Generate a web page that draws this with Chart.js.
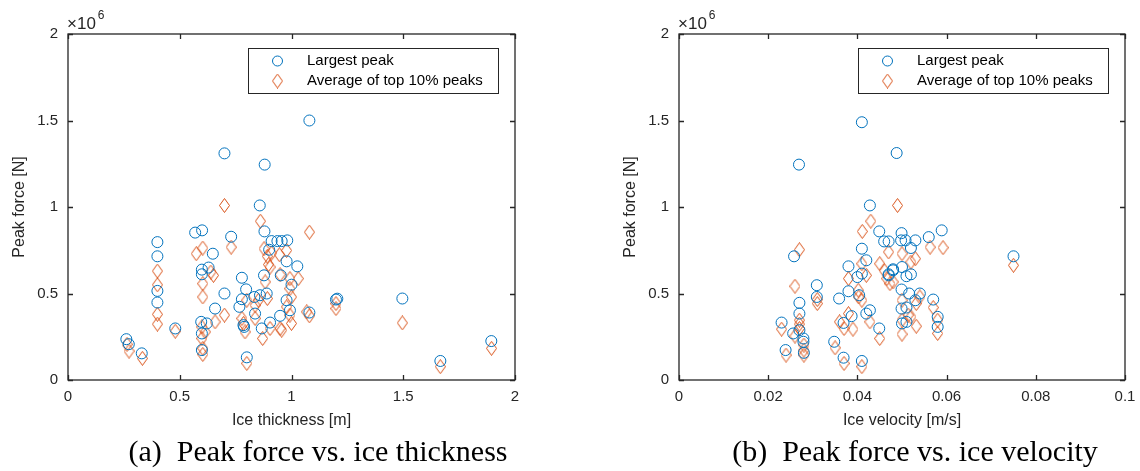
<!DOCTYPE html>
<html>
<head>
<meta charset="utf-8">
<script src="https://cdn.jsdelivr.net/npm/chart.js@4"></script>
<style>
  body { margin: 0; background: #fff; width: 1140px; height: 471px; position: relative; overflow: hidden; }
  .box { position: absolute; top: 0; width: 570px; height: 440px; }
  .cap { position: absolute; top: 435px; width: 500px; text-align: center;
         font-family: "Liberation Serif", "Times New Roman", serif;
         font-size: 30px; line-height: 32px; color: #000; white-space: pre; }
</style>
</head>
<body>
<div class="box" style="left:0"><canvas id="thicknessChart" width="570" height="440"></canvas></div>
<div class="box" style="left:570px"><canvas id="velocityChart" width="570" height="440"></canvas></div>
<div class="cap" style="left:68px">(a)  Peak force vs. ice thickness</div>
<div class="cap" style="left:665px">(b)  Peak force vs. ice velocity</div>
<script>
// peak force in units of 10^6 N
const seriesLabels = ['Largest peak', 'Average of top 10% peaks'];
const thicknessTicks = [0, 0.5, 1, 1.5, 2];
const velocityTicks = [0, 0.02, 0.04, 0.06, 0.08, 0.1];
const forceTicks = [0, 0.5, 1, 1.5, 2];

const thicknessLargest = [
  [1.08,1.50],[0.70,1.31],[0.88,1.245],[0.858,1.009],[0.879,0.859],[0.40,0.797],[0.569,0.852],
  [0.60,0.865],[0.73,0.828],[0.648,0.73],[0.40,0.715],[0.911,0.803],[0.937,0.803],[0.956,0.803],
  [0.981,0.807],[0.90,0.753],[0.978,0.686],[1.026,0.657],[0.599,0.638],[0.629,0.65],[0.599,0.611],
  [0.778,0.591],[0.877,0.605],[0.952,0.605],[1.0,0.551],[0.797,0.524],[0.70,0.50],[0.889,0.50],
  [0.859,0.49],[0.834,0.48],[0.778,0.467],[0.978,0.461],[0.767,0.423],[0.658,0.413],[0.993,0.403],
  [0.837,0.384],[0.949,0.371],[0.596,0.336],[0.621,0.327],[0.904,0.332],[0.785,0.317],[0.599,0.269],
  [0.867,0.298],[0.599,0.173],[0.40,0.515],[0.40,0.448],[0.48,0.298],[0.261,0.236],[0.272,0.207],
  [0.33,0.154],[0.80,0.131],[1.08,0.39],[1.199,0.465],[1.205,0.47],[1.496,0.471],[1.666,0.11],
  [1.894,0.225],[0.788,0.307]
];
const thicknessAverage = [
  [0.70,1.009],[0.861,0.918],[1.08,0.855],[0.603,0.763],[0.574,0.73],[0.73,0.768],[0.877,0.759],
  [0.892,0.715],[0.911,0.734],[0.946,0.724],[0.978,0.749],[0.897,0.667],[0.904,0.653],[0.639,0.624],
  [0.651,0.605],[0.603,0.557],[0.882,0.567],[0.949,0.609],[0.993,0.586],[1.03,0.586],[0.993,0.528],
  [1.0,0.48],[0.603,0.48],[0.80,0.461],[0.852,0.461],[0.892,0.471],[0.837,0.432],[0.978,0.423],
  [0.993,0.375],[1.0,0.327],[0.70,0.375],[0.658,0.336],[0.778,0.356],[0.785,0.327],[0.792,0.278],
  [0.837,0.356],[0.904,0.298],[0.949,0.298],[0.599,0.307],[0.614,0.278],[0.599,0.24],[0.871,0.24],
  [1.068,0.394],[0.603,0.183],[0.603,0.148],[0.40,0.63],[0.40,0.55],[0.40,0.38],[0.40,0.323],
  [0.48,0.282],[0.264,0.206],[0.273,0.167],[0.333,0.125],[0.80,0.096],[1.08,0.371],[1.199,0.442],
  [1.199,0.413],[1.496,0.33],[1.666,0.077],[1.895,0.183],[0.956,0.288]
];
const velocityLargest = [
  [0.041,1.49],[0.0269,1.245],[0.0488,1.312],[0.0428,1.009],[0.0449,0.859],[0.046,0.801],[0.047,0.801],
  [0.041,0.759],[0.0258,0.715],[0.0499,0.849],[0.0589,0.865],[0.056,0.826],[0.053,0.807],[0.0508,0.807],
  [0.0498,0.807],[0.052,0.763],[0.075,0.715],[0.0309,0.548],[0.0309,0.48],[0.027,0.446],[0.027,0.384],
  [0.023,0.332],[0.0256,0.269],[0.027,0.288],[0.0279,0.24],[0.0279,0.221],[0.028,0.157],[0.0239,0.173],
  [0.0348,0.221],[0.0369,0.129],[0.041,0.11],[0.038,0.657],[0.038,0.513],[0.0359,0.471],[0.0387,0.369],
  [0.0369,0.33],[0.0428,0.403],[0.042,0.384],[0.0449,0.298],[0.040,0.595],[0.041,0.615],[0.042,0.692],
  [0.047,0.605],[0.048,0.634],[0.0499,0.523],[0.0516,0.50],[0.054,0.50],[0.053,0.461],[0.057,0.465],
  [0.0499,0.413],[0.051,0.419],[0.058,0.365],[0.058,0.307],[0.05,0.327],[0.051,0.336],[0.05,0.653],
  [0.048,0.64],[0.047,0.611],[0.051,0.60],[0.052,0.611],[0.0404,0.49]
];
const velocityAverage = [
  [0.049,1.009],[0.043,0.918],[0.0411,0.859],[0.027,0.753],[0.047,0.74],[0.0563,0.768],[0.0592,0.765],
  [0.075,0.663],[0.026,0.542],[0.031,0.465],[0.031,0.442],[0.027,0.346],[0.027,0.323],[0.027,0.298],
  [0.023,0.294],[0.026,0.254],[0.028,0.202],[0.028,0.173],[0.028,0.144],[0.024,0.144],[0.035,0.186],
  [0.037,0.096],[0.041,0.077],[0.038,0.586],[0.0402,0.519],[0.0403,0.48],[0.041,0.461],[0.038,0.384],
  [0.036,0.336],[0.037,0.298],[0.039,0.294],[0.0428,0.336],[0.045,0.24],[0.041,0.672],[0.042,0.605],
  [0.045,0.672],[0.046,0.634],[0.057,0.419],[0.058,0.346],[0.058,0.269],[0.0532,0.311],[0.05,0.265],
  [0.05,0.461],[0.0473,0.557],[0.048,0.567],[0.0466,0.586],[0.053,0.701],[0.052,0.682],[0.05,0.73],
  [0.052,0.365],[0.0514,0.375],[0.0532,0.442],[0.054,0.48],[0.05,0.346]
];

const BLUE = '#0072BD';
const ORANGE = '#D95319';
const INK = '#262626';
const tickFont = { family: "'Liberation Sans Narrow', 'Liberation Sans', Arial, sans-serif", size: 15 };

// MATLAB style diamond marker
const diamond = document.createElement('canvas');
diamond.width = 11; diamond.height = 15;
(function () {
  const c = diamond.getContext('2d');
  c.strokeStyle = ORANGE; c.lineWidth = 1;
  c.beginPath();
  c.moveTo(5.5, 0.5); c.lineTo(10.5, 7.5); c.lineTo(5.5, 14.5); c.lineTo(0.5, 7.5); c.closePath();
  c.stroke();
})();

function toPoints(pairs) { return pairs.map(p => ({ x: p[0], y: p[1] })); }

const framePlugin = {
  id: 'frame',
  afterDraw(chart) {
    const { ctx, chartArea: a, scales: { x, y } } = chart;
    ctx.save();
    ctx.strokeStyle = INK;
    ctx.lineWidth = 1.3;
    ctx.strokeRect(a.left, a.top, a.right - a.left, a.bottom - a.top);
    ctx.beginPath();
    x.ticks.forEach(t => {
      const p = Math.round(x.getPixelForValue(t.value)) + 0.5;
      ctx.moveTo(p, a.bottom); ctx.lineTo(p, a.bottom - 5);
      ctx.moveTo(p, a.top); ctx.lineTo(p, a.top + 5);
    });
    y.ticks.forEach(t => {
      const p = Math.round(y.getPixelForValue(t.value)) + 0.5;
      ctx.moveTo(a.left, p); ctx.lineTo(a.left + 5, p);
      ctx.moveTo(a.right, p); ctx.lineTo(a.right - 5, p);
    });
    ctx.stroke();

    // exponent label
    ctx.fillStyle = INK;
    ctx.font = "17px 'Liberation Sans', Arial, sans-serif";
    ctx.textAlign = 'left';
    ctx.textBaseline = 'alphabetic';
    ctx.fillText('\u00d710', a.left - 1, a.top - 5);
    const w = ctx.measureText('\u00d710').width;
    ctx.font = "12px 'Liberation Sans', Arial, sans-serif";
    ctx.fillText('6', a.left + w + 1, a.top - 15);

    // legend box
    const bx = a.right - 267, by = a.top + 14, bw = 250, bh = 45;
    ctx.fillStyle = '#fff';
    ctx.fillRect(bx, by, bw, bh);
    ctx.lineWidth = 1;
    ctx.strokeRect(bx + 0.5, by + 0.5, bw, bh);
    ctx.font = "15px 'Liberation Sans', Arial, sans-serif";
    ctx.textBaseline = 'middle';
    chart.data.datasets.forEach((ds, i) => {
      const ry = by + 13 + i * 20;
      if (ds.pointStyle === 'circle') {
        ctx.strokeStyle = ds.borderColor;
        ctx.beginPath(); ctx.arc(bx + 29.5, ry, 5, 0, Math.PI * 2); ctx.stroke();
      } else {
        ctx.drawImage(ds.pointStyle, bx + 29.5 - 5.5, ry - 7.5);
      }
      ctx.fillStyle = '#000';
      ctx.fillText(ds.label, bx + 59, ry);
    });
    ctx.restore();
  }
};

function makeChart(id, xTicks, xTitle, largest, average, padLeft, padRight) {
  const ctx = document.getElementById(id).getContext('2d');
  return new Chart(ctx, {
    type: 'scatter',
    data: {
      datasets: [{
        label: seriesLabels[0],
        data: toPoints(largest),
        pointStyle: 'circle',
        pointRadius: 5.5,
        borderWidth: 1,
        borderColor: BLUE,
        backgroundColor: 'rgba(0,0,0,0)'
      }, {
        label: seriesLabels[1],
        data: toPoints(average),
        pointStyle: diamond,
        borderColor: ORANGE,
        backgroundColor: 'rgba(0,0,0,0)'
      }]
    },
    options: {
      responsive: false,
      animation: false,
      layout: { padding: { top: 34, right: padRight, left: padLeft, bottom: 0 } },
      plugins: { legend: { display: false }, tooltip: { enabled: false } },
      scales: {
        x: {
          type: 'linear',
          min: xTicks[0],
          max: xTicks[xTicks.length - 1],
          afterBuildTicks: s => { s.ticks = xTicks.map(v => ({ value: v })); },
          ticks: { color: INK, font: tickFont, padding: 0, maxRotation: 0,
                   callback: v => String(+v.toFixed(2)) },
          grid: { display: false },
          border: { display: false },
          title: { display: true, text: xTitle, color: INK, font: { ...tickFont, size: 16 }, padding: { top: 4, bottom: 10 } },
          afterFit: s => { s.height = 60; }
        },
        y: {
          type: 'linear',
          min: forceTicks[0],
          max: forceTicks[forceTicks.length - 1],
          afterBuildTicks: s => { s.ticks = forceTicks.map(v => ({ value: v })); },
          ticks: { color: INK, font: tickFont, padding: 2, callback: v => String(v) },
          grid: { display: false },
          border: { display: false },
          title: { display: true, text: 'Peak force [N]', color: INK, font: { ...tickFont, size: 16 }, padding: { top: 10, bottom: 0 } },
          afterFit: s => { s.width = 68; }
        }
      }
    },
    plugins: [framePlugin]
  });
}

makeChart('thicknessChart', thicknessTicks, 'Ice thickness [m]', thicknessLargest, thicknessAverage, 0, 55);
makeChart('velocityChart', velocityTicks, 'Ice velocity [m/s]', velocityLargest, velocityAverage, 41, 15);
</script>
</body>
</html>
